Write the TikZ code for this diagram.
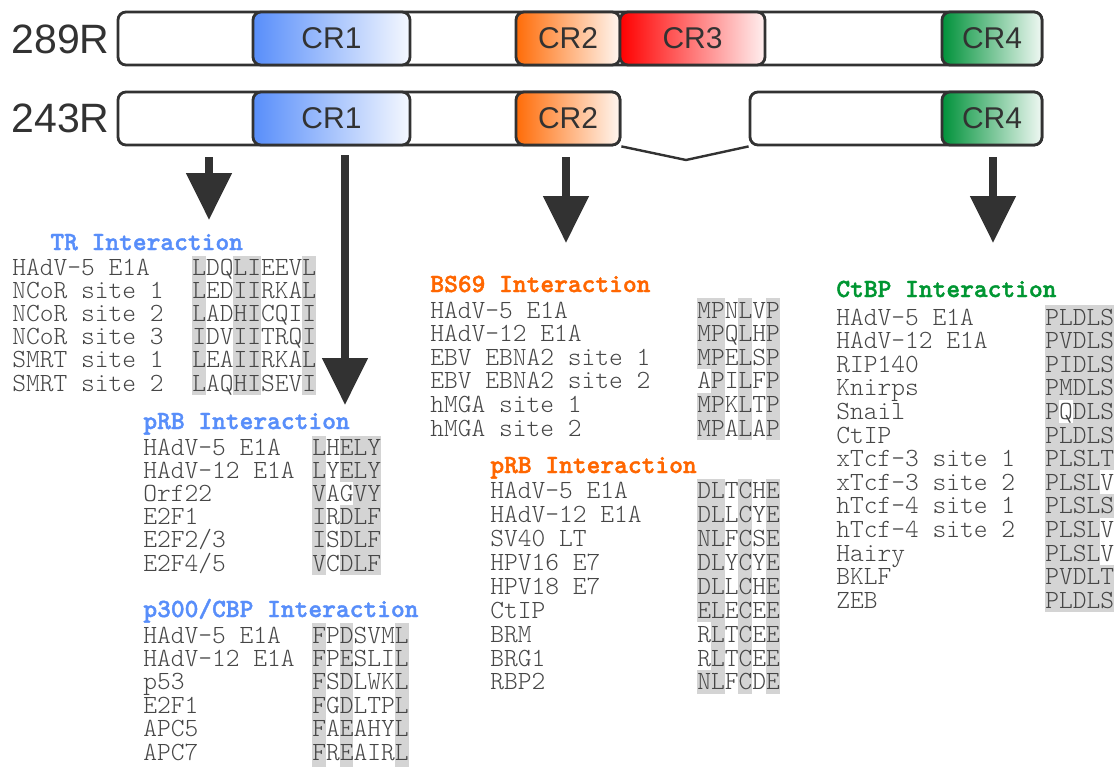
\documentclass[tikz,border=0pt]{standalone}
\usepackage{fontspec}
\setmainfont{Liberation Sans}
\setmonofont{lmmonolt10-regular.otf}[BoldFont=lmmonolt10-bold.otf, BoldFeatures={FakeBold=1.6}]
\usetikzlibrary{
    arrows.meta,
    positioning,
    calc
}
\definecolor{dark}{RGB}{50,50,50}
\definecolor{seqtext}{RGB}{70,70,70}
\definecolor{hlgrey}{RGB}{212,212,212}
\definecolor{crblue}{RGB}{88,142,250}
\definecolor{crorange}{RGB}{255,108,8}
\definecolor{crred}{RGB}{255,0,0}
\definecolor{crgreen}{RGB}{0,146,58}
\definecolor{titleblue}{RGB}{88,142,250}
\definecolor{titleorange}{RGB}{255,102,0}
\definecolor{titlegreen}{RGB}{0,150,50}
\tikzset{
    % Protein backbone style
    backbone/.style={
        rectangle,
        rounded corners=4pt,
        minimum height=26.5pt,
        inner sep=0pt,
        draw=dark,
        fill=white,
        line width=1.4pt
    },
    % Conserved region style
    conserved/.style={
        rectangle,
        rounded corners=4pt,
        minimum height=26.5pt,
        inner sep=0pt,
        draw=dark,
        line width=1.4pt,
        font=\fontsize{15}{18}\selectfont,
        text=dark,
        left color=#1,
        right color=#1!6
    },
    % Isoform label style
    isoform/.style={
        font=\fontsize{20.5}{24}\selectfont,
        text=dark,
        anchor=east,
        inner sep=0pt
    },
    % Arrow styles
    bigarrow/.style={
        -{Triangle[width=22pt, length=23.5pt]},
        line width=4pt,
        color=dark
    },
    splice/.style={
        line width=1.2pt,
        color=dark
    },
    % Motif table styles
    motif title/.style={
        font=\fontsize{13.1}{15}\selectfont\ttfamily\bfseries,
        text=#1,
        anchor=base west,
        inner sep=0pt,
        text height=8.5pt,
        text depth=1.5pt
    },
    seqline/.style={
        font=\fontsize{13.1}{15}\selectfont\ttfamily,
        text=seqtext,
        anchor=base west,
        inner sep=0pt,
        text height=8.5pt,
        text depth=1.5pt
    },
    hilite/.style={fill=hlgrey},
    gap/.style={fill=white}
}
\begin{document}
\begin{tikzpicture}[x=0.5pt, y=-0.5pt]

        \useasboundingbox (0,0) rectangle (1118,766);

        % Isoform labels
        \node[isoform] (r289) at (110,39) {289R};
        \node[isoform] (r243) at (110,118) {243R};

        % 289R protein
        \node[backbone, minimum width=462pt] (bar289) at (580,38.5) {};
        \node[conserved=crblue, minimum width=78.5pt] (cr1a) at (331.5,38.5) {CR1};
        \node[conserved=crorange, minimum width=52pt] (cr2a) at (568,38.5) {CR2};
        \node[conserved=crred, minimum width=72.5pt] (cr3a) at (692.5,38.5) {CR3};
        \node[conserved=crgreen, minimum width=50pt] (cr4a) at (992,38.5) {CR4};

        % 243R protein - CR3 spliced out
        \node[backbone, minimum width=251pt] (bar243a) at (369,118.5) {};
        \node[backbone, minimum width=146pt] (bar243b) at (896,118.5) {};
        \node[conserved=crblue, minimum width=78.5pt] (cr1b) at (331.5,118.5) {CR1};
        \node[conserved=crorange, minimum width=52pt] (cr2b) at (568,118.5) {CR2};
        \node[conserved=crgreen, minimum width=50pt] (cr4b) at (992,118.5) {CR4};
        \coordinate (intron) at (686,160);
        \draw[splice] (cr2b.south east) -- (intron) -- (bar243b.south west);

        % Arrows down to the motif tables
        \coordinate (trfrom) at (209,157);
        \coordinate (trto) at (209,220);
        \coordinate (rbfrom) at (345,155);
        \coordinate (rbto) at (345,405);
        \coordinate (bsfrom) at (566,157);
        \coordinate (bsto) at (566,243);
        \coordinate (ctfrom) at (993,157);
        \coordinate (ctto) at (993,243);
        \draw[bigarrow] (trfrom) -- (trto);
        \draw[bigarrow] (rbfrom) -- (rbto);
        \draw[bigarrow] (bsfrom) -- (bsto);
        \draw[bigarrow] (ctfrom) -- (ctto);

        % Conserved residues
        \fill[hilite] (192,255.5) rectangle (205.8,395);
        \fill[hilite] (233.4,255.5) rectangle (261,395);
        \fill[hilite] (302.4,255.5) rectangle (316.2,395);

        \fill[hilite] (312,435.5) rectangle (325.8,575);
        \fill[hilite] (339.6,435.5) rectangle (381,575);
        \fill[gap] (339.6,481.8) rectangle (353.4,505);

        \fill[hilite] (312,623) rectangle (325.8,770);
        \fill[hilite] (339.6,623) rectangle (353.4,770);
        \fill[hilite] (394.8,623) rectangle (408.6,770);

        \fill[hilite] (697,298) rectangle (724.6,440);
        \fill[hilite] (738.4,298) rectangle (752.2,440);
        \fill[hilite] (766,298) rectangle (779.8,440);
        \fill[gap] (697,369) rectangle (710.8,392.6);

        \fill[hilite] (697,479) rectangle (724.6,694);
        \fill[hilite] (738.4,479) rectangle (752.2,694);
        \fill[hilite] (766,479) rectangle (779.8,694);
        \fill[gap] (697,622.3) rectangle (710.8,670);

        \fill[hilite] (1045,305) rectangle (1114,612);
        \fill[gap] (1058.8,399.6) rectangle (1072.6,423.2);
        \fill[gap] (1100.2,470.4) rectangle (1114,494);
        \fill[gap] (1100.2,517.6) rectangle (1114,564.8);

        % TR table
        \node[motif title=titleblue] (trtitle) at (50,250) {TR Interaction};
        \foreach \nm/\sq [count=\i] in {HAdV-5 E1A/LDQLIEEVL, NCoR site 1/LEDIIRKAL,
            NCoR site 2/LADHICQII, NCoR site 3/IDVIITRQI, SMRT site 1/LEAIIRKAL,
            SMRT site 2/LAQHISEVI} {
            \node[seqline] (trname\i) at (12,{251.8+23.2*\i}) {\nm};
            \node[seqline] (trseq\i) at (192,{251.8+23.2*\i}) {\sq};
        }

        % pRB table (CR1)
        \node[motif title=titleblue] (rbtitle) at (143,429) {pRB Interaction};
        \foreach \nm/\sq [count=\i] in {HAdV-5 E1A/LHELY, HAdV-12 E1A/LYELY,
            Orf22/VAGVY, E2F1/IRDLF, {E2F2/3}/ISDLF, {E2F4/5}/VCDLF} {
            \node[seqline] (rbname\i) at (143,{431.8+23.2*\i}) {\nm};
            \node[seqline] (rbseq\i) at (312,{431.8+23.2*\i}) {\sq};
        }

        % p300/CBP table
        \node[motif title=titleblue] (cbptitle) at (143,617) {p300/CBP Interaction};
        \foreach \nm/\sq [count=\i] in {HAdV-5 E1A/FPDSVML, HAdV-12 E1A/FPESLIL,
            p53/FSDLWKL, E2F1/FGDLTPL, APC5/FAEAHYL, APC7/FREAIRL} {
            \node[seqline] (cbpname\i) at (143,{619.6+23.4*\i}) {\nm};
            \node[seqline] (cbpseq\i) at (312,{619.6+23.4*\i}) {\sq};
        }

        % BS69 table
        \node[motif title=titleorange] (bstitle) at (430,292) {BS69 Interaction};
        \foreach \nm/\sq [count=\i] in {HAdV-5 E1A/MPNLVP, HAdV-12 E1A/MPQLHP,
            EBV EBNA2 site 1/MPELSP, EBV EBNA2 site 2/APILFP,
            hMGA site 1/MPKLTP, hMGA site 2/MPALAP} {
            \node[seqline] (bsname\i) at (430,{294.4+23.6*\i}) {\nm};
            \node[seqline] (bsseq\i) at (697,{294.4+23.6*\i}) {\sq};
        }

        % pRB table (CR2)
        \node[motif title=titleorange] (rb2title) at (490,473) {pRB Interaction};
        \foreach \nm/\sq [count=\i] in {HAdV-5 E1A/DLTCHE, HAdV-12 E1A/DLLCYE,
            SV40 LT/NLFCSE, HPV16 E7/DLYCYE, HPV18 E7/DLLCHE, CtIP/ELECEE,
            BRM/RLTCEE, BRG1/RLTCEE, RBP2/NLFCDE} {
            \node[seqline] (rb2name\i) at (490,{475.1+23.875*\i}) {\nm};
            \node[seqline] (rb2seq\i) at (697,{475.1+23.875*\i}) {\sq};
        }

        % CtBP table
        \node[motif title=titlegreen] (cttitle) at (836,297) {CtBP Interaction};
        \foreach \nm/\sq [count=\i] in {HAdV-5 E1A/PLDLS, HAdV-12 E1A/PVDLS,
            RIP140/PIDLS, Knirps/PMDLS, Snail/PQDLS, CtIP/PLDLS,
            xTcf-3 site 1/PLSLT, xTcf-3 site 2/PLSLV, hTcf-4 site 1/PLSLS,
            hTcf-4 site 2/PLSLV, Hairy/PLSLV, BKLF/PVDLT, ZEB/PLDLS} {
            \node[seqline] (ctname\i) at (836,{301.4+23.6*\i}) {\nm};
            \node[seqline] (ctseq\i) at (1045,{301.4+23.6*\i}) {\sq};
        }

    \end{tikzpicture}
\end{document}
